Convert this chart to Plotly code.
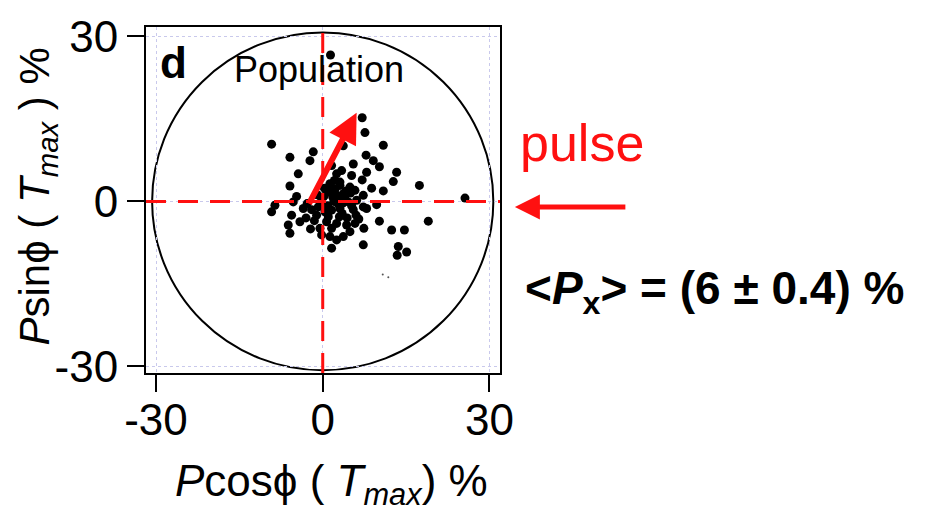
import plotly.graph_objects as go

# ---- data ----
px_vals = [1.4, 7.1, 7.6, -9.2, 10.9, -1.7, -5.9, -2.3, 3.7, 7.8, 9.1, 5.5, 10.2, 1.6, 13.3,
           -4.4, 3.4, 2.5, 5.2, 7.9, 7.1, 12.7, 17.4, 3.1, 1.3, -5.9, -4.7, 8.8, 10.9, 25.6,
           -8.6, -9.2, -5.6, -6.2, -5.9, -4.1, -3.5, -5.3, -1.1, -0.5, -0.2, 1.3, 1.6, 2.5,
           3.7, 4.9, 5.8, 4.3, 2.5, 0.7, 0.4, 1.6, 3.1, 4.6, 6.1, 7.3, 3.7, 2.5, 1.0, -0.2,
           -0.8, 3.1, 4.9, 1.3, 7.3, 7.9, 9.7, 10.2, 7.4, 12.4, 14.7, 19.0, 7.3, 13.6, 15.1,
           13.4, 2.0, 4.0, 5.5, 3.0, 1.0, -2.0, -3.0, 5.0, 2.2, 6.0, -2.8, 0.2, 5.8, 3.6,
           1.8, 2.8, 3.5, 0.9, 4.2, 5.2, 2.1, -1.5, -2.2, 6.5, 0.3, 4.4, -1.0, 1.6, 3.3]
py_vals = [26.6, 15.2, 12.5, 10.4, 10.2, 9.0, 8.0, 7.4, 10.1, 8.4, 7.4, 6.8, 6.3, 6.5, 5.3,
           5.0, 5.6, 5.0, 4.7, 5.3, 3.9, 3.6, 2.9, 3.5, 3.2, 2.8, 0.9, 2.4, 1.9, 0.6,
           -0.7, -1.9, -2.5, -4.3, -5.8, -3.7, -1.3, -0.1, -2.5, -4.9, -6.1, -6.4, -8.5, -7.0,
           -6.4, -5.5, -4.0, -4.3, -4.0, -3.7, -1.9, -1.6, -1.3, -0.1, 0.2, 1.1, 1.4, 1.1, 1.7, 0.2,
           -1.0, 2.9, 2.6, 2.9, -1.0, -1.3, -0.6, -3.6, -4.9, -5.2, -5.2, -3.6, -7.9, -8.2, -9.2,
           -9.8, 0.0, 0.5, -1.5, -2.8, -2.8, -1.5, -3.0, 1.5, 2.2, -2.5, -0.4, 0.9, 2.0, -0.3,
           0.8, -0.5, -2.2, -0.8, 1.9, -0.8, 3.8, -3.5, -5.0, -3.2, 2.4, -3.0, 1.2, -4.9, 0.2]
speck_x = [10.8, 11.8]
speck_y = [-13.3, -13.8]

arrow_tail = (-2.6, -0.7)
arrow_tip = (6.1, 16.1)
circle_radius = 30.7

tick_vals = [-30, 0, 30]
tick_text = ["-30", "0", "30"]

x_range = [-31.8, 31.9]
y_range = [-31.2, 31.7]

RED = "#ff1010"
FONT = "Liberation Sans, Arial, sans-serif"

fig = go.Figure()

fig.add_trace(go.Scatter(x=px_vals, y=py_vals, mode="markers",
                         marker=dict(size=9, color="black"), showlegend=False,
                         hoverinfo="skip"))
fig.add_trace(go.Scatter(x=speck_x, y=speck_y, mode="markers",
                         marker=dict(size=2, color="#555555"), showlegend=False,
                         hoverinfo="skip"))

# circle
fig.add_shape(type="circle", xref="x", yref="y",
              x0=-circle_radius, x1=circle_radius, y0=-circle_radius, y1=circle_radius,
              line=dict(color="black", width=2), layer="below")
# red dashed axes
fig.add_shape(type="line", xref="x", yref="paper", x0=0, x1=0, y0=0, y1=1,
              line=dict(color=RED, width=3, dash="20px,12px"))
fig.add_shape(type="line", xref="paper", yref="y", x0=0, x1=1, y0=0, y1=0,
              line=dict(color=RED, width=3, dash="20px,12px"))

axis_common = dict(
    tickmode="array", tickvals=tick_vals, ticktext=tick_text,
    ticks="outside", ticklen=17, tickwidth=2, tickcolor="black",
    showline=True, linecolor="black", linewidth=2, mirror=True,
    showgrid=True, gridcolor="#c9c9ec", griddash="dot", gridwidth=1,
    zeroline=False, tickfont=dict(family=FONT, size=44, color="black"),
)
fig.update_xaxes(range=x_range, ticklabelstandoff=-10, **axis_common)
fig.update_yaxes(range=y_range, **axis_common)

annotations = [
    # population arrow
    dict(x=arrow_tip[0], y=arrow_tip[1], ax=arrow_tail[0], ay=arrow_tail[1],
         xref="x", yref="y", axref="x", ayref="y", showarrow=True, text="",
         arrowcolor=RED, arrowwidth=6, arrowhead=2, arrowsize=1.0, standoff=0),
    dict(x=-26.9, y=25.3, xref="x", yref="y", text="<b>d</b>", showarrow=False,
         xanchor="center", yanchor="middle",
         font=dict(family=FONT, size=44, color="black")),
    dict(x=-0.6, y=23.9, xref="x", yref="y", text="Population", showarrow=False,
         xanchor="center", yanchor="middle",
         font=dict(family=FONT, size=36, color="black")),
    # axis titles
    dict(x=-0.305, y=0.51, xref="paper", yref="paper", textangle=-90,
         xanchor="center", yanchor="middle",
         text="<i>P</i>sin\u03d5 ( <i>T</i><sub><i>max</i></sub> ) %", showarrow=False,
         font=dict(family=FONT, size=42, color="black")),
    dict(x=0.525, y=-0.32, xref="paper", yref="paper",
         xanchor="center", yanchor="middle",
         text="<i>P</i>cos\u03d5 ( <i>T</i><sub><i>max</i></sub>) %", showarrow=False,
         font=dict(family=FONT, size=44, color="black")),
    # right side
    dict(x=1.232, y=0.666, xref="paper", yref="paper", text="pulse", showarrow=False,
         xanchor="center", yanchor="middle",
         font=dict(family=FONT, size=52, color=RED)),
    dict(x=1.042, y=0.48, xref="paper", yref="paper", ax=112, ay=0, text="",
         showarrow=True, arrowcolor=RED, arrowwidth=5, arrowhead=2, arrowsize=1,
         standoff=0),
    dict(x=1.605, y=0.235, xref="paper", yref="paper",
         xanchor="center", yanchor="middle",
         text="<b>&lt;<i>P</i><sub>x</sub>&gt; = (6 \u00b1 0.4) %</b>", showarrow=False,
         font=dict(family=FONT, size=46, color="black")),
]

fig.update_layout(
    width=928, height=515,
    margin=dict(l=146, r=428, t=23, b=142),
    paper_bgcolor="white", plot_bgcolor="white",
    annotations=annotations, showlegend=False,
)

fig.write_html("out.html")
